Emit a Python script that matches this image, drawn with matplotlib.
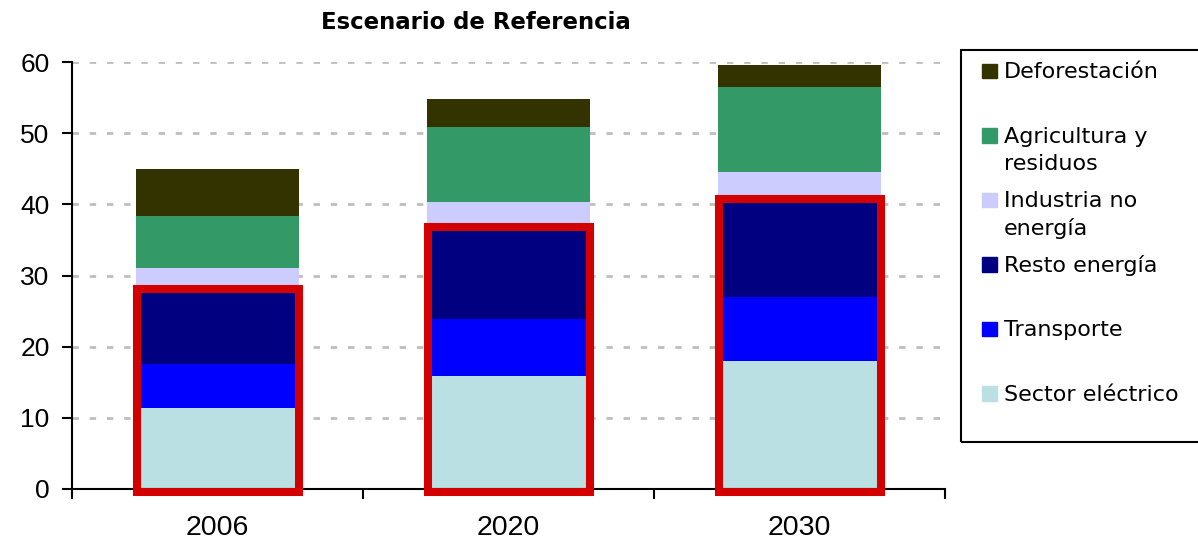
import matplotlib
matplotlib.use("Agg")
import matplotlib.pyplot as plt
from matplotlib.patches import Rectangle
import numpy as np

# ---- data ------------------------------------------------------------------
years = ["2006", "2020", "2030"]
sector_electrico = [11.4, 15.9, 18.0]
transporte = [6.2, 8.0, 9.0]
resto_energia = [10.5, 12.9, 13.8]
industria_no_energia = [3.0, 3.5, 3.8]
agricultura_residuos = [7.3, 10.6, 11.9]
deforestacion = [6.6, 3.9, 3.1]

series = [
    ("Sector eléctrico", sector_electrico, "#BBE0E3"),
    ("Transporte", transporte, "#0000FF"),
    ("Resto energía", resto_energia, "#000080"),
    ("Industria no\nenergía", industria_no_energia, "#CCCCFF"),
    ("Agricultura y\nresiduos", agricultura_residuos, "#339966"),
    ("Deforestación", deforestacion, "#333300"),
]
yticks = [0, 10, 20, 30, 40, 50, 60]

W, H = 1198, 544
fig = plt.figure(figsize=(W / 100, H / 100), dpi=100)
ax = fig.add_axes([72 / W, 55.3 / H, (945 - 72) / W, (488.7 - 62.3) / H])

x = np.arange(len(years))
bottom = np.zeros(len(years))
for name, vals, col in series:
    ax.bar(x, vals, width=0.56, bottom=bottom, color=col, zorder=2)
    bottom += np.array(vals)

# red frames around the energy sectors
energy_top = np.array(sector_electrico) + np.array(transporte) + np.array(resto_energia)
for i, top in enumerate(energy_top):
    ax.add_patch(Rectangle((i - 0.275, -0.45), 0.555, top + 0.45, fill=False,
                           edgecolor="#D20000", lw=5.8, zorder=5, clip_on=False))

ax.set_xlim(-0.5, 2.5)
ax.set_ylim(0, 60)
ax.set_yticks(yticks)
ax.set_xticks(x)
ax.set_xticklabels(years)
ax.set_xticks([-0.5, 0.5, 1.5, 2.5], minor=True)
ax.tick_params(axis="x", which="major", length=0, pad=19, labelsize=20.5)
ax.tick_params(axis="x", which="minor", length=7.2, width=1.5, direction="out")
ax.tick_params(axis="y", length=7.2, width=1.5, direction="out", pad=9, labelsize=19)
for lab in ax.get_xticklabels() + ax.get_yticklabels():
    lab.set_fontfamily("Liberation Sans")

for s in ["top", "right"]:
    ax.spines[s].set_visible(False)
for s in ["left", "bottom"]:
    ax.spines[s].set_linewidth(1.5)
    ax.spines[s].set_zorder(4)

ax.yaxis.grid(True, color="#BEBEBE", lw=2, linestyle=(0, (2.3, 3.9)), zorder=0)
ax.set_axisbelow(True)

# title
fig.text(475.5 / W, 1 - 29.3 / H, "Escenario de Referencia", ha="center",
         va="baseline", fontsize=16.4, fontweight="bold", family="DejaVu Sans")

# legend box (Excel style, cut by the right edge)
fig.patches.append(Rectangle((960.7 / W, 1 - 442 / H), (1205 - 960.7) / W,
                             (442 - 50) / H, transform=fig.transFigure,
                             fill=False, edgecolor="black", lw=1.5))
for k, (name, vals, col) in enumerate(reversed(series)):
    base = 78.3 + 64.5 * k
    fig.patches.append(Rectangle((982 / W, 1 - base / H), 14.5 / W, 14.5 / H,
                                 transform=fig.transFigure, color=col))
    for j, line in enumerate(name.split("\n")):
        fig.text(1004 / W, 1 - (base + 27.5 * j) / H, line, ha="left",
                 va="baseline", fontsize=16, family="DejaVu Sans")

fig.savefig("out.png", dpi=100)
